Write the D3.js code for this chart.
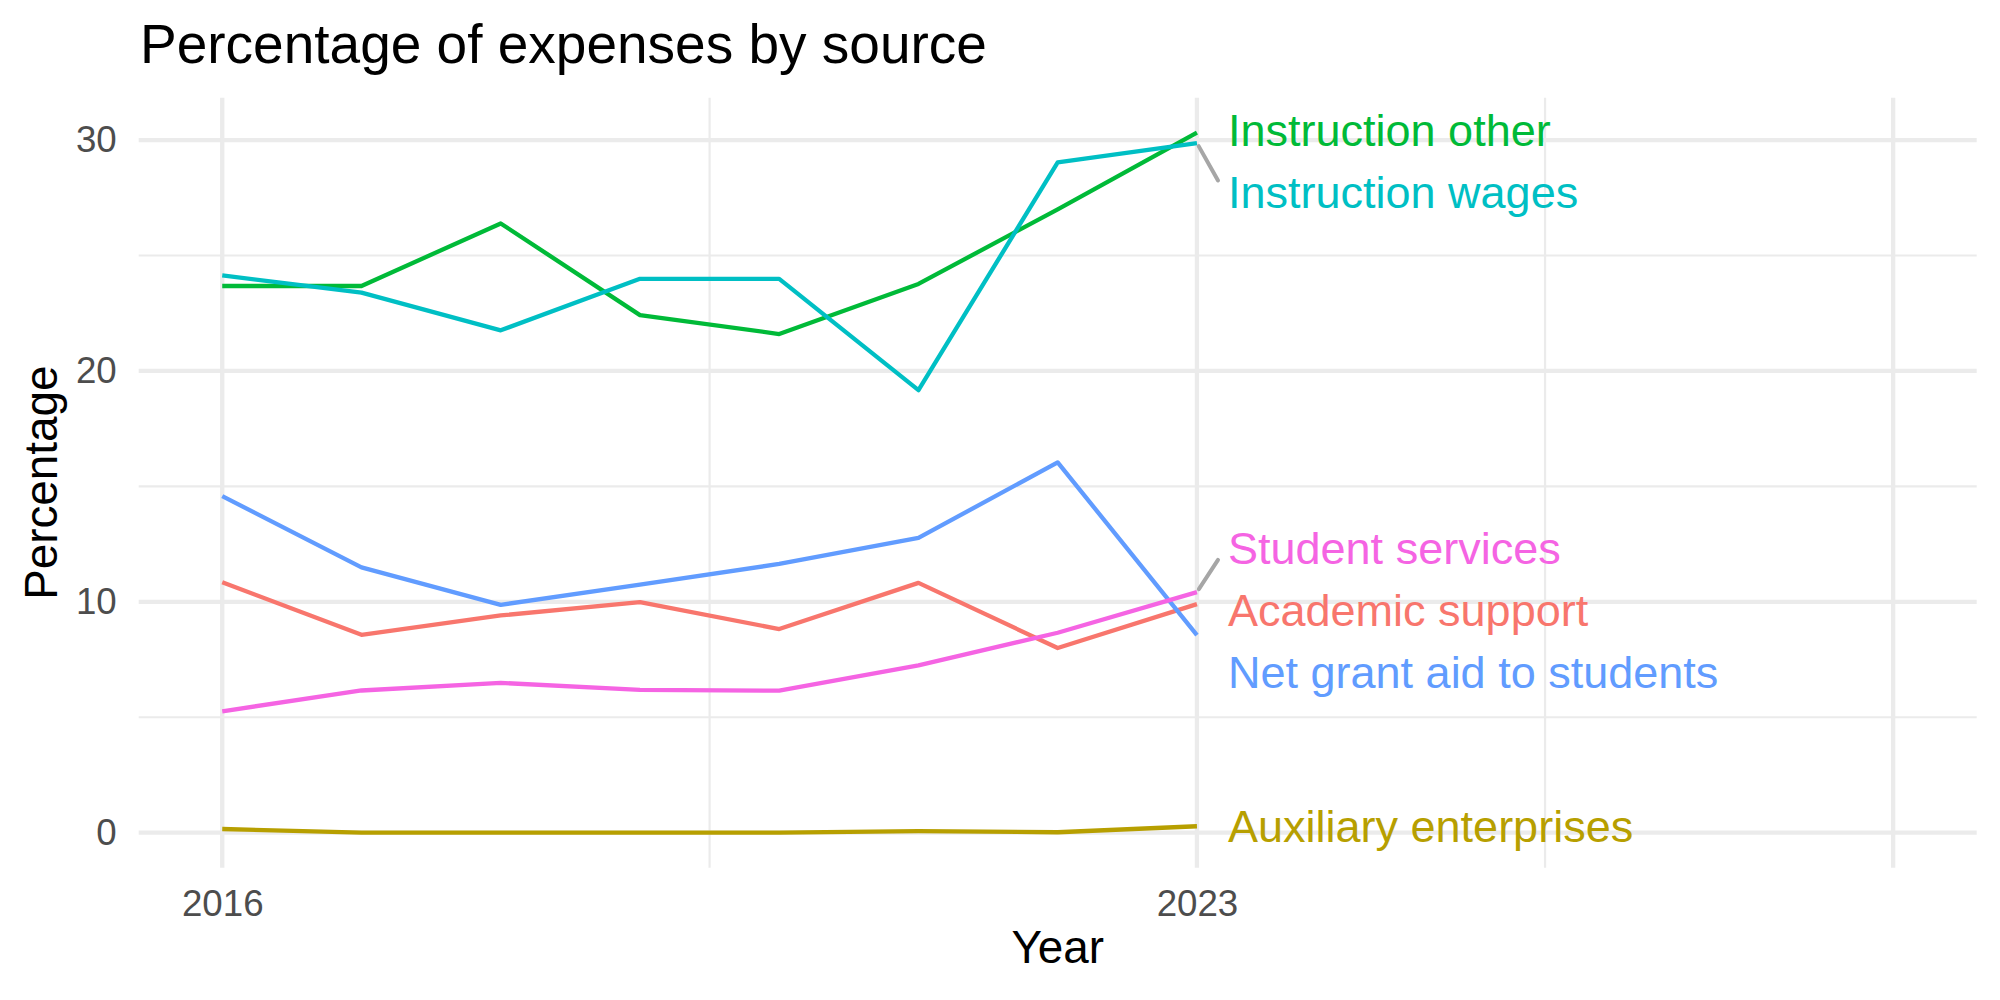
<!DOCTYPE html>
<html>
<head>
<meta charset="utf-8">
<script src="https://cdn.jsdelivr.net/npm/d3@7"></script>
<style>
  body { margin: 0; background: #fff; }
  text { font-family: "Liberation Sans", Arial, Helvetica, sans-serif; }
</style>
</head>
<body>
<svg width="2000" height="1000"></svg>
<script>
// data
var years = [2016, 2017, 2018, 2019, 2020, 2021, 2022, 2023];
var academicSupport  = [10.85, 8.57, 9.41, 9.99, 8.82, 10.82, 8.0, 9.9];
var auxiliary        = [0.16, 0.0, 0.0, 0.0, 0.0, 0.07, 0.02, 0.28];
var instructionOther = [23.68, 23.68, 26.39, 22.42, 21.6, 23.77, 27.0, 30.32];
var instructionWages = [24.14, 23.39, 21.76, 23.99, 23.99, 19.17, 29.03, 29.87];
var netGrantAid      = [14.58, 11.49, 9.87, 10.75, 11.64, 12.77, 16.04, 8.56];
var studentServices  = [5.26, 6.16, 6.49, 6.19, 6.15, 7.25, 8.66, 10.42];

var seriesNames = ["Academic support", "Auxiliary enterprises", "Instruction other",
                   "Instruction wages", "Net grant aid to students", "Student services"];
var seriesValues = [academicSupport, auxiliary, instructionOther,
                    instructionWages, netGrantAid, studentServices];
var colors = ["#F8766D", "#B79F00", "#00BA38", "#00BFC4", "#619CFF", "#F564E3"];

var xMajor = [2016, 2023, 2028];
var xLabels = ["2016", "2023", ""];
var xMinor = [2019.5, 2025.5];
var yMajor = [0, 10, 20, 30];
var yMinor = [5, 15, 25];

var svg = d3.select("svg");
var panel = {left: 138.7, right: 1976.7, top: 97.7, bottom: 867.7};

// ggplot style 5% expansion
var x = d3.scaleLinear().domain([2015.4, 2028.6]).range([panel.left, panel.right]);
var yMax = d3.max(seriesValues, function(s) { return d3.max(s); });
var pad = yMax * 0.05;
var y = d3.scaleLinear().domain([-pad, yMax + pad]).range([panel.bottom, panel.top]);

var grid = svg.append("g");
grid.selectAll("line.ymin").data(yMinor).enter().append("line")
    .attr("x1", panel.left).attr("x2", panel.right)
    .attr("y1", y).attr("y2", y)
    .style("stroke", "#ebebeb").style("stroke-width", 2.2);
grid.selectAll("line.xmin").data(xMinor).enter().append("line")
    .attr("y1", panel.top).attr("y2", panel.bottom)
    .attr("x1", x).attr("x2", x)
    .style("stroke", "#ebebeb").style("stroke-width", 2.2);
grid.selectAll("line.ymaj").data(yMajor).enter().append("line")
    .attr("x1", panel.left).attr("x2", panel.right)
    .attr("y1", y).attr("y2", y)
    .style("stroke", "#ebebeb").style("stroke-width", 4.3);
grid.selectAll("line.xmaj").data(xMajor).enter().append("line")
    .attr("y1", panel.top).attr("y2", panel.bottom)
    .attr("x1", x).attr("x2", x)
    .style("stroke", "#ebebeb").style("stroke-width", 4.3);

// axes, drawn with d3.axis then stripped to ggplot look
var xAxis = svg.append("g")
    .attr("transform", "translate(0," + panel.bottom + ")")
    .call(d3.axisBottom(x).tickValues(xMajor)
            .tickFormat(function(d, i) { return xLabels[i]; })
            .tickSize(0).tickPadding(22));
xAxis.select(".domain").remove();
xAxis.selectAll("text").style("font-size", "36.7px").style("fill", "#4d4d4d")
     .style("font-family", "Liberation Sans, Arial, sans-serif");

var yAxis = svg.append("g")
    .attr("transform", "translate(" + panel.left + ",0)")
    .call(d3.axisLeft(y).tickValues(yMajor).tickSize(0).tickPadding(22));
yAxis.select(".domain").remove();
yAxis.selectAll("text").style("font-size", "36.7px").style("fill", "#4d4d4d")
     .style("font-family", "Liberation Sans, Arial, sans-serif");

// lines
var line = d3.line()
    .x(function(d) { return x(d.year); })
    .y(function(d) { return y(d.value); });

var series = seriesNames.map(function(name, i) {
  return {
    name: name,
    color: colors[i],
    points: years.map(function(yr, j) { return {year: yr, value: seriesValues[i][j]}; })
  };
});

svg.append("g").selectAll("path").data(series).enter().append("path")
    .attr("d", function(d) { return line(d.points); })
    .style("fill", "none")
    .style("stroke", function(d) { return d.color; })
    .style("stroke-width", 4.3)
    .style("stroke-linejoin", "round");

// end labels, simple 1-d repel
var gap = 62, half = 32.3;
var labels = series.map(function(d) {
  var last = d.points[d.points.length - 1];
  return {s: d, px: x(last.year), py: y(last.value), ly: y(last.value)};
}).sort(function(a, b) { return a.py - b.py; });

for (var it = 0; it < 200; it++) {
  for (var k = 0; k < labels.length - 1; k++) {
    var a = labels[k], b = labels[k + 1];
    var overlap = gap - (b.ly - a.ly);
    if (overlap > 0) { a.ly -= overlap / 2; b.ly += overlap / 2; }
  }
  labels.forEach(function(l) {
    l.ly = Math.max(panel.top + half, Math.min(panel.bottom - half, l.ly));
  });
}

var labelX = 1228;
labels.forEach(function(l) {
  var dy = l.ly - l.py;
  if (Math.abs(dy) > 40) {
    var ex = labelX - 10, ey = l.ly - Math.sign(dy) * 11.5;
    var len = Math.hypot(ex - l.px, ey - l.py);
    var sx = l.px + (ex - l.px) / len * 3.5, sy = l.py + (ey - l.py) / len * 3.5;
    svg.append("line")
        .attr("x1", sx).attr("y1", sy).attr("x2", ex).attr("y2", ey)
        .style("stroke", "#a6a6a6").style("stroke-width", 4)
        .style("stroke-linecap", "round");
  }
  svg.append("text")
      .attr("x", labelX).attr("y", l.ly)
      .attr("dy", "0.35em")
      .style("font-size", "45px")
      .style("fill", l.s.color)
      .text(l.s.name);
});

// titles
svg.append("text")
    .attr("x", 140).attr("y", 63)
    .style("font-size", "55px").style("fill", "#000")
    .text("Percentage of expenses by source");

svg.append("text")
    .attr("x", (panel.left + panel.right) / 2).attr("y", 963)
    .attr("text-anchor", "middle")
    .style("font-size", "45.8px").style("fill", "#000")
    .text("Year");

svg.append("text")
    .attr("transform", "translate(57," + ((panel.top + panel.bottom) / 2) + ") rotate(-90)")
    .attr("text-anchor", "middle")
    .style("font-size", "45.8px").style("fill", "#000")
    .text("Percentage");
</script>
</body>
</html>
